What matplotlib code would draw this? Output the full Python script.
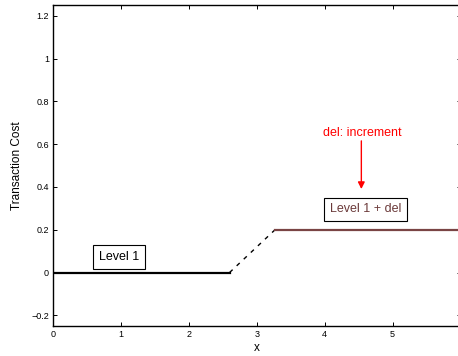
import matplotlib.pyplot as plt

# piecewise transaction cost: flat level 1, ramp, level 1 + del
x_low = [0, 2.6]
y_low = [0, 0]
x_ramp = [2.6, 3.27]
y_ramp = [0, 0.2]
x_high = [3.27, 6.0]
y_high = [0.2, 0.2]

xticks = [0, 1, 2, 3, 4, 5]
yticks = [-0.2, 0, 0.2, 0.4, 0.6, 0.8, 1, 1.2]
ytick_labels = ['\u22120.2', '0', '0.2', '0.4', '0.6', '0.8', '1', '1.2']

plt.rcParams['font.family'] = ['Liberation Sans', 'DejaVu Sans']

fig = plt.figure(figsize=(4.58, 3.56), dpi=100)
ax = fig.add_axes([53 / 458, 30 / 356, 407.5 / 458, 321 / 356])

ax.plot(x_low, y_low, color='black', lw=1.6)
ax.plot(x_ramp, y_ramp, color='black', lw=1.0, ls=(0, (3, 4)))
ax.plot(x_high, y_high, color='#7a4444', lw=1.6)

ax.text(0.97, 0.073, 'Level 1', ha='center', va='center', fontsize=9,
        bbox=dict(boxstyle='square,pad=0.45', fc='white', ec='black', lw=0.8))
ax.text(4.6, 0.295, 'Level 1 + del', ha='center', va='center', fontsize=9,
        color='#6b3a3a',
        bbox=dict(boxstyle='square,pad=0.45', fc='white', ec='black', lw=0.8))
ax.text(4.56, 0.65, 'del: increment', ha='center', va='center',
        fontsize=9, color='red')
ax.annotate('', xy=(4.54, 0.39), xytext=(4.54, 0.615),
            arrowprops=dict(arrowstyle='-|>', color='red', lw=1.0,
                            mutation_scale=10, shrinkA=0, shrinkB=0))

ax.set_xlim(0, 6.0)
ax.set_ylim(-0.25, 1.25)
ax.set_xticks(xticks)
ax.set_yticks(yticks)
ax.set_yticklabels(ytick_labels)
ax.tick_params(direction='in', top=True, right=True, labelsize=6.5,
               length=3, width=0.7, pad=3)
for s in ax.spines.values():
    s.set_linewidth(1.0)

ax.set_xlabel('x', fontsize=8.5, labelpad=2)
ax.set_ylabel('Transaction Cost', fontsize=8.5, labelpad=6)

fig.savefig('out.png', dpi=100)
